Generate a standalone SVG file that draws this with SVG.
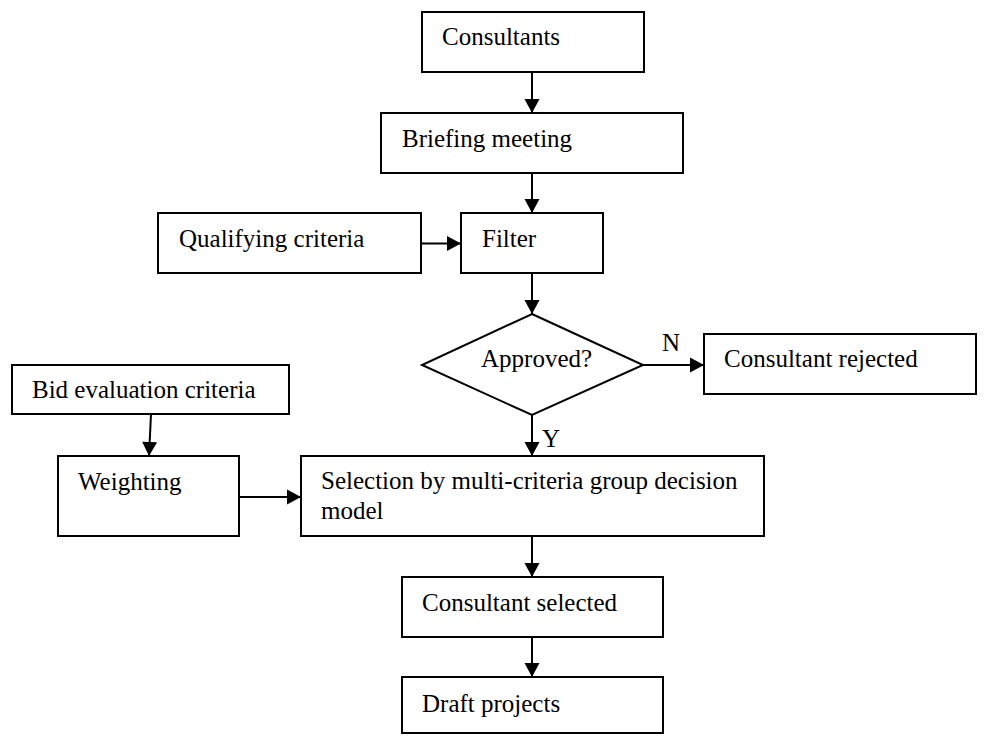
<svg xmlns="http://www.w3.org/2000/svg" width="1001" height="736" viewBox="0 0 1001 736">
<style>
.box{fill:#fff;stroke:#000;stroke-width:2}
.t{font-family:"Liberation Serif","Times New Roman",serif;font-size:25px;fill:#000}
.c{stroke:#000;stroke-width:2;fill:none;marker-end:url(#arr)}
</style>
<defs>
<marker id="arr" markerUnits="userSpaceOnUse" markerWidth="16" markerHeight="16" viewBox="0 0 16 16" refX="15" refY="8" orient="auto">
<path d="M1,0.5 L15,8 L1,15.5 Z" fill="#000"/>
</marker>
</defs>
<rect width="1001" height="736" fill="#fff"/>
<g id="connectors">
<line class="c" x1="532" y1="72" x2="532" y2="113"/>
<line class="c" x1="532" y1="173" x2="532" y2="213"/>
<line class="c" x1="421" y1="243.5" x2="461" y2="243.5"/>
<line class="c" x1="532" y1="273" x2="532" y2="314"/>
<line class="c" x1="643" y1="365" x2="704" y2="365"/>
<line class="c" x1="532" y1="415" x2="532" y2="456"/>
<line class="c" x1="151" y1="414" x2="149" y2="456"/>
<line class="c" x1="239" y1="497" x2="301" y2="497"/>
<line class="c" x1="532" y1="536" x2="532" y2="577"/>
<line class="c" x1="532" y1="637" x2="532" y2="677"/>
</g>
<g id="consultants">
<rect class="box" x="422" y="12" width="222" height="60"/>
<text class="t" x="442" y="45">Consultants</text>
</g>
<g id="briefing">
<rect class="box" x="381" y="113" width="302" height="60"/>
<text class="t" x="402" y="147">Briefing meeting</text>
</g>
<g id="qualifying">
<rect class="box" x="158" y="213" width="263" height="60"/>
<text class="t" x="179" y="247">Qualifying criteria</text>
</g>
<g id="filter">
<rect class="box" x="461" y="213" width="142" height="60"/>
<text class="t" x="482" y="247">Filter</text>
</g>
<g id="approved">
<polygon class="box" points="532,314 643,365 532,415 422,365"/>
<text class="t" x="481" y="367">Approved?</text>
</g>
<g id="label-n">
<text class="t" x="662" y="351">N</text>
</g>
<g id="rejected">
<rect class="box" x="704" y="334" width="272" height="60"/>
<text class="t" x="724" y="367">Consultant rejected</text>
</g>
<g id="label-y">
<text class="t" x="542" y="447">Y</text>
</g>
<g id="bid">
<rect class="box" x="12" y="365" width="277" height="49"/>
<text class="t" x="32" y="398">Bid evaluation criteria</text>
</g>
<g id="weighting">
<rect class="box" x="58" y="456" width="181" height="80"/>
<text class="t" x="78" y="490">Weighting</text>
</g>
<g id="selection">
<rect class="box" x="301" y="456" width="463" height="80"/>
<text class="t" x="321" y="489">Selection by multi-criteria group decision</text>
<text class="t" x="321" y="519">model</text>
</g>
<g id="selected">
<rect class="box" x="402" y="577" width="261" height="60"/>
<text class="t" x="422" y="611">Consultant selected</text>
</g>
<g id="draft">
<rect class="box" x="402" y="677" width="261" height="56"/>
<text class="t" x="422" y="712">Draft projects</text>
</g>
</svg>
